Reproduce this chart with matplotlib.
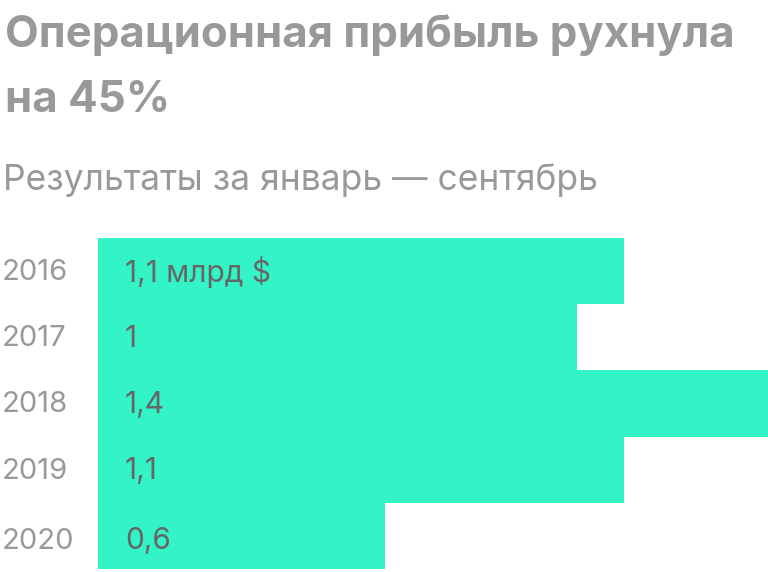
import matplotlib
matplotlib.use("Agg")
import matplotlib.pyplot as plt
import matplotlib.transforms as mtransforms

years = ["2016", "2017", "2018", "2019", "2020"]
values = [1.1, 1.0, 1.4, 1.1, 0.6]
value_labels = ["1,1 млрд $", "1", "1,4", "1,1", "0,6"]

title_lines = ["Операционная прибыль рухнула", "на 45%"]
subtitle = "Результаты за январь — сентябрь"

W, H = 768, 572
plt.rcParams['font.family'] = ['Inter', 'DejaVu Sans']
fig = plt.figure(figsize=(W / 100, H / 100), dpi=100)

bar_color = "#33F4C6"
ax = fig.add_axes([98 / W, 1 - 569 / H, 1 - 98 / W, (569 - 238) / H])
ax.barh(range(len(years)), values, height=1.0, color=bar_color, linewidth=0)
ax.set_xlim(0, 1.4)
ax.set_ylim(len(years) - 0.5, -0.5)
ax.axis("off")

trans_year = mtransforms.blended_transform_factory(fig.transFigure, ax.transData)
for i, (y, lab) in enumerate(zip(years, value_labels)):
    dy = 0.02 if i < len(years) - 1 else 0.08
    ax.text(2 / W, i + dy, y, transform=trans_year, ha="left", va="center",
            fontsize=21, color="#999999")
    ax.text(125 / W, i + dy, lab, transform=trans_year, ha="left", va="center",
            fontsize=21.5, color="#666666")

fig.text(5 / W, 1 - 47 / H, title_lines[0], fontsize=31.5,
         fontweight="bold", color="#999999", ha="left", va="baseline")
fig.text(5 / W, 1 - 112 / H, title_lines[1], fontsize=31.5,
         fontweight="bold", color="#999999", ha="left", va="baseline")
fig.text(3 / W, 1 - 190 / H, subtitle, fontsize=25.5,
         color="#999999", ha="left", va="baseline")

fig.savefig("out.png", dpi=100)
